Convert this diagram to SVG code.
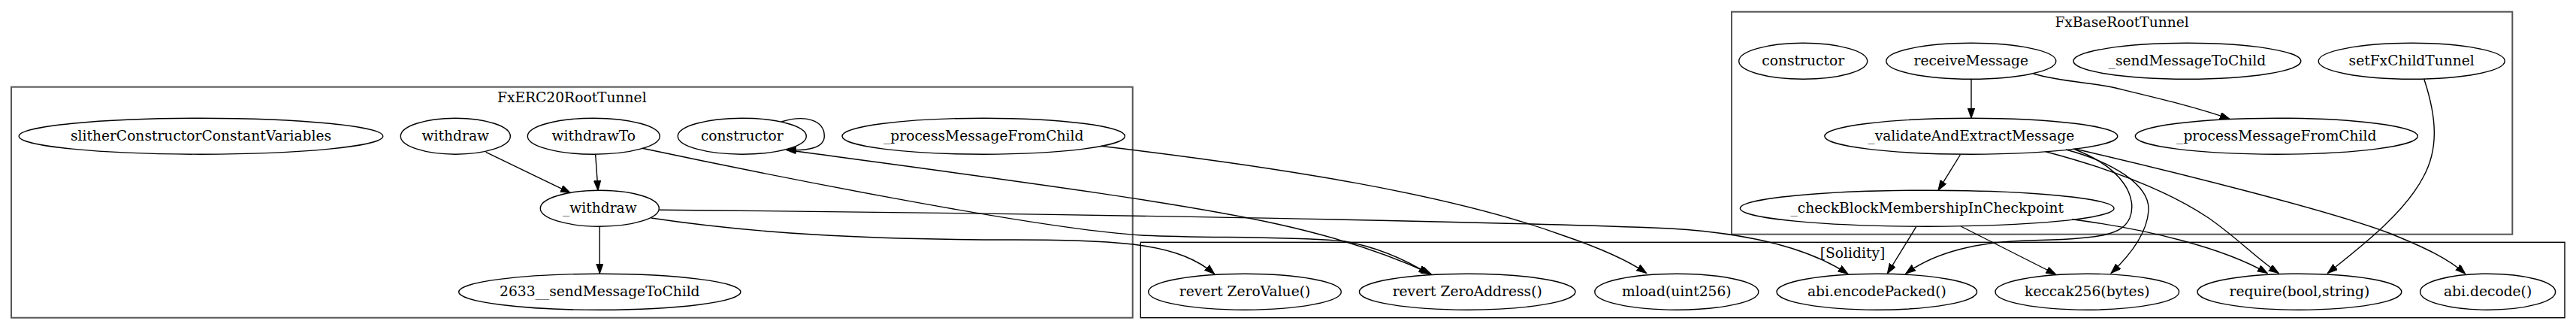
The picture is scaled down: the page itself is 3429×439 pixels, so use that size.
<svg xmlns="http://www.w3.org/2000/svg" width="3429" height="439" viewBox="0 0 3429 439">
<style>
.bg{fill:#ffffff}
.cl{fill:none;stroke:#555555;stroke-width:2}
.cls{fill:none;stroke:#000000;stroke-width:1.4}
.n ellipse{fill:none;stroke:#000000;stroke-width:1.4}
text{font-family:"DejaVu Serif","Liberation Serif",serif;font-size:18.67px;fill:#000000;text-anchor:middle}
.e path{fill:none;stroke:#000000;stroke-width:1.4;marker-end:url(#arr)}
</style>
<defs>
<marker id="arr" markerUnits="userSpaceOnUse" markerWidth="14" markerHeight="10" refX="13.3" refY="4.67" orient="auto">
<path d="M0,0 L13.3,4.67 L0,9.33 z" fill="#000000" stroke="#000000" stroke-width="1"/>
</marker>
</defs>
<rect class="bg" x="0" y="0" width="3429" height="439"/>

<g id="cluster_FxERC20RootTunnel">
<rect class="cl" x="15" y="115.7" width="1492.7" height="307"/>
<text x="761.3" y="136">FxERC20RootTunnel</text>
</g>
<g id="cluster_FxBaseRootTunnel">
<rect class="cl" x="2305" y="15.7" width="1039.3" height="296"/>
<text x="2824.6" y="36">FxBaseRootTunnel</text>
</g>
<g id="cluster_Solidity">
<rect class="cls" x="1518.3" y="322.3" width="1895.7" height="100.4"/>
<text x="2466" y="343.3">[Solidity]</text>
</g>

<g id="erc20_slitherConstructorConstantVariables" class="n"><ellipse cx="267.5" cy="181.2" rx="242.3" ry="24"/><text x="267.5" y="186.8">slitherConstructorConstantVariables</text></g>
<g id="erc20_withdraw" class="n"><ellipse cx="606.3" cy="181.2" rx="73" ry="24"/><text x="606.3" y="186.8">withdraw</text></g>
<g id="erc20_withdrawTo" class="n"><ellipse cx="790.3" cy="181.2" rx="88" ry="24"/><text x="790.3" y="186.8">withdrawTo</text></g>
<g id="erc20_constructor" class="n"><ellipse cx="987.8" cy="181.2" rx="85.5" ry="24"/><text x="987.8" y="186.8">constructor</text></g>
<g id="erc20_processMessageFromChild" class="n"><ellipse cx="1309.2" cy="181.2" rx="188.2" ry="24"/><text x="1309.2" y="186.8">_processMessageFromChild</text></g>
<g id="erc20__withdraw" class="n"><ellipse cx="798.3" cy="277.2" rx="79" ry="24"/><text x="798.3" y="282.8">_withdraw</text></g>
<g id="erc20_2633__sendMessageToChild" class="n"><ellipse cx="798.3" cy="388.3" rx="187.7" ry="24"/><text x="798.3" y="393.9">2633__sendMessageToChild</text></g>

<g id="base_constructor" class="n"><ellipse cx="2400.2" cy="81.3" rx="85.5" ry="24"/><text x="2400.2" y="86.9">constructor</text></g>
<g id="base_receiveMessage" class="n"><ellipse cx="2623.8" cy="81.3" rx="113" ry="24"/><text x="2623.8" y="86.9">receiveMessage</text></g>
<g id="base_sendMessageToChild" class="n"><ellipse cx="2911.4" cy="81.3" rx="151.4" ry="24"/><text x="2911.4" y="86.9">_sendMessageToChild</text></g>
<g id="base_setFxChildTunnel" class="n"><ellipse cx="3210.2" cy="81.3" rx="124" ry="24"/><text x="3210.2" y="86.9">setFxChildTunnel</text></g>
<g id="base_validateAndExtractMessage" class="n"><ellipse cx="2623.8" cy="181.2" rx="195" ry="24"/><text x="2623.8" y="186.8">_validateAndExtractMessage</text></g>
<g id="base_processMessageFromChild" class="n"><ellipse cx="3030.3" cy="181.2" rx="188" ry="24"/><text x="3030.3" y="186.8">_processMessageFromChild</text></g>
<g id="base_checkBlockMembershipInCheckpoint" class="n"><ellipse cx="2565.2" cy="277.2" rx="248.8" ry="24"/><text x="2565.2" y="282.8">_checkBlockMembershipInCheckpoint</text></g>

<g id="sol_revertZeroValue" class="n"><ellipse cx="1657" cy="388.2" rx="128.3" ry="24"/><text x="1657" y="393.8">revert ZeroValue()</text></g>
<g id="sol_revertZeroAddress" class="n"><ellipse cx="1953.2" cy="388.2" rx="143.8" ry="24"/><text x="1953.2" y="393.8">revert ZeroAddress()</text></g>
<g id="sol_mload" class="n"><ellipse cx="2231.8" cy="388.2" rx="109" ry="24"/><text x="2231.8" y="393.8">mload(uint256)</text></g>
<g id="sol_abiEncodePacked" class="n"><ellipse cx="2498.3" cy="388.2" rx="133.3" ry="24"/><text x="2498.3" y="393.8">abi.encodePacked()</text></g>
<g id="sol_keccak256" class="n"><ellipse cx="2778.3" cy="388.2" rx="122.3" ry="24"/><text x="2778.3" y="393.8">keccak256(bytes)</text></g>
<g id="sol_require" class="n"><ellipse cx="3060.9" cy="388.2" rx="135.9" ry="24"/><text x="3060.9" y="393.8">require(bool,string)</text></g>
<g id="sol_abiDecode" class="n"><ellipse cx="3311.6" cy="388.2" rx="90" ry="24"/><text x="3311.6" y="393.8">abi.decode()</text></g>

<g id="connectors" class="e">
<path d="M646.7,202.3 L759.3,256.7"/>
<path d="M792.7,205.7 L796,253.5"/>
<path d="M798.3,301.3 L798.3,364"/>
<path d="M1040,162 C1072,152 1097.3,160 1097.3,181 C1097.3,197 1075,201 1046.5,199.3"/>
<path d="M1048,199.5 C1300,234 1560,267 1700,298 C1800,320 1865,346 1905,364.5"/>
<path d="M855,197.3 C1000,228 1380,305 1520,313 C1600,317 1720,314 1790,321 C1840,330 1875,348 1901.7,364.5"/>
<path d="M1465,194.3 C1700,222 1930,258 2080,313 C2130,330 2165,345 2191.7,363.5"/>
<path d="M877.3,279.3 C1300,283 1900,292 2200,303 C2310,307 2400,325 2460,364.5"/>
<path d="M866.7,290 C1000,310 1150,319 1350,319 C1500,319 1570,325 1616.7,364.5"/>
<path d="M2624,105.3 L2624,157.3"/>
<path d="M2707,98.3 C2750,110 2790,110 2820,118 C2870,130 2925,143 2968,158.3"/>
<path d="M2609.3,206 L2580,253.3"/>
<path d="M3226.7,105 C3245,160 3245,200 3226,235 C3200,285 3140,330 3098.3,363.5"/>
<path d="M2762,198 C2900,230 3100,280 3180,310 C3230,330 3260,345 3281.7,364.3"/>
<path d="M2723,201.7 C2800,222 2880,250 2940,290 C2980,318 3005,345 3033.3,363.5"/>
<path d="M2750,199 C2810,215 2862,245 2860,280 C2858,310 2835,340 2810,363.5"/>
<path d="M2760,198 C2830,225 2845,265 2835,290 C2825,312 2800,318 2700,320 C2620,322 2570,340 2536.7,364"/>
<path d="M2550.7,301.7 L2512.3,364"/>
<path d="M2610,301 L2736.7,365"/>
<path d="M2758,291.7 C2860,305 2960,330 3018.3,363.5"/>
</g>
</svg>
